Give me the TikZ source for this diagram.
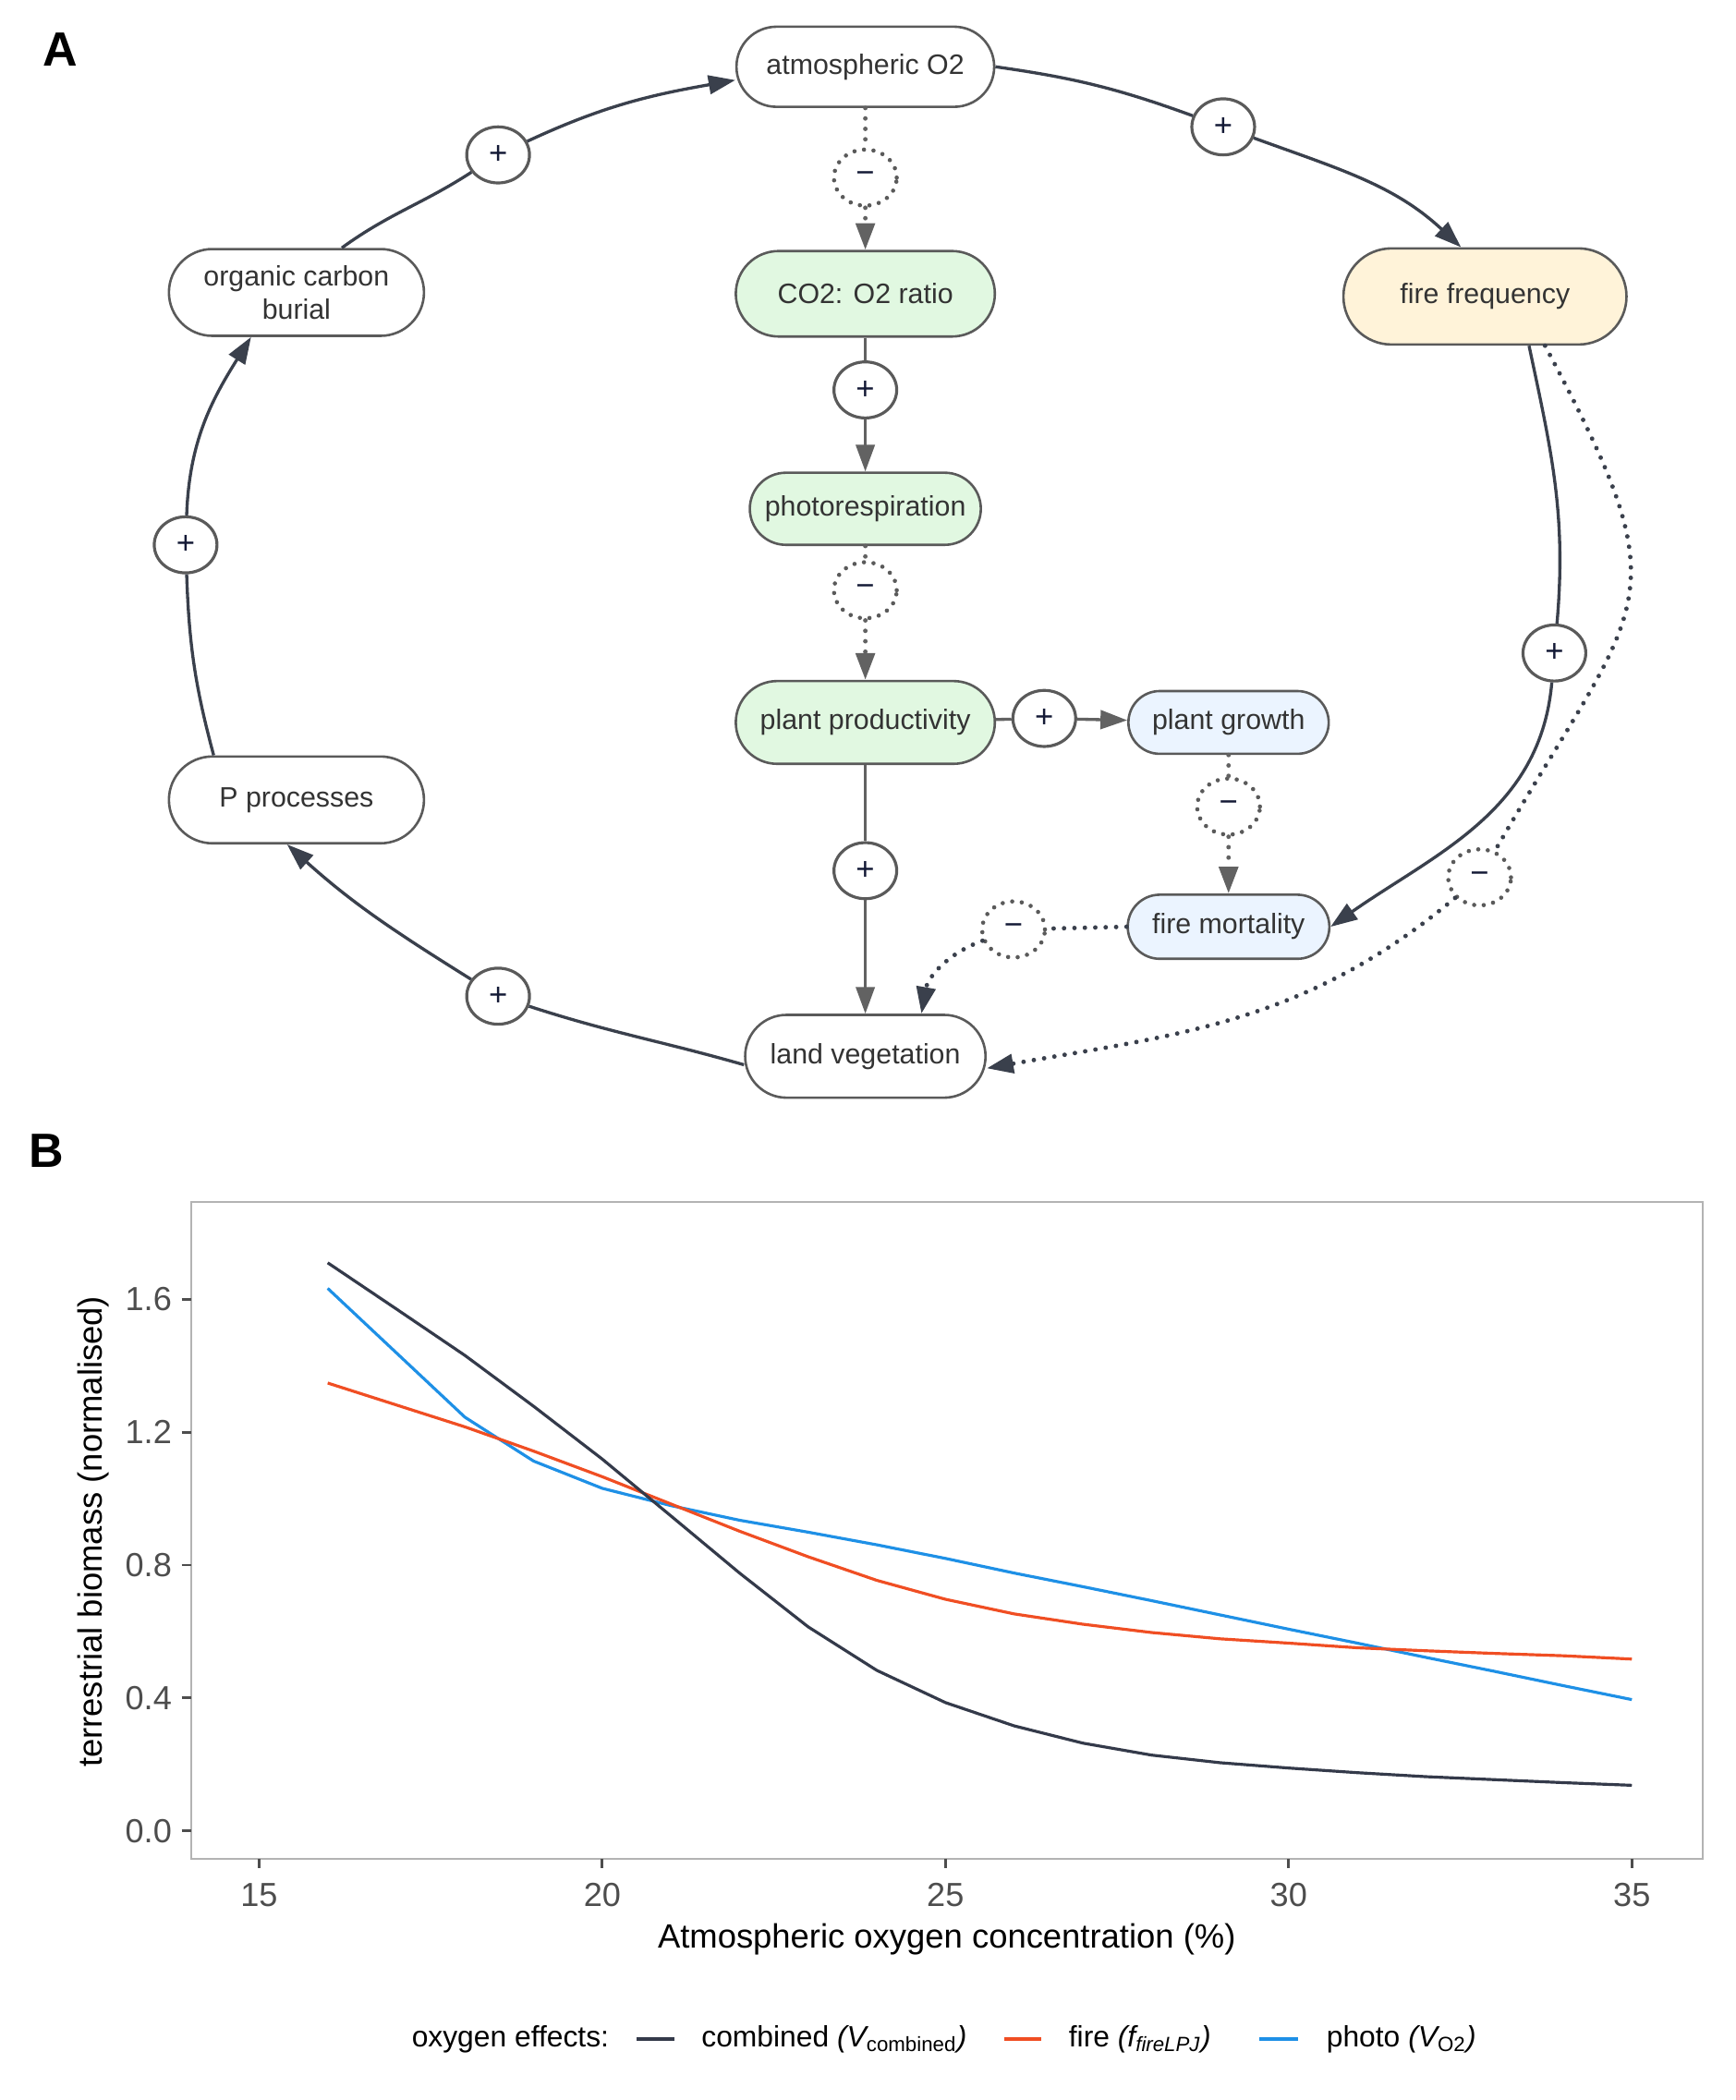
\documentclass[tikz,border=0pt]{standalone}
\usepackage{fontspec}
\setmainfont{Liberation Sans}
\usetikzlibrary{shapes.geometric,arrows.meta}

\definecolor{loopc}{RGB}{58,64,76}
\definecolor{linkc}{RGB}{98,98,98}
\definecolor{edgec}{RGB}{90,90,90}
\definecolor{signc}{RGB}{20,26,54}
\definecolor{greenf}{RGB}{225,248,225}
\definecolor{firef}{RGB}{255,243,217}
\definecolor{bluef}{RGB}{235,244,255}
\definecolor{combc}{RGB}{52,58,74}
\definecolor{firec}{RGB}{240,78,35}
\definecolor{photoc}{RGB}{30,144,230}
\definecolor{framec}{RGB}{179,179,179}
\definecolor{tickc}{RGB}{77,77,77}

\begin{document}
\begin{tikzpicture}[x=0.5pt,y=-0.5pt,
	pill/.style 2 args={rectangle, draw=edgec, line width=0.9pt, fill=white, inner sep=0pt,
		minimum width=#1, minimum height=#2, rounded corners=#2/2,
		font=\fontsize{10.5}{12.6}\selectfont, text=black!80, align=center},
	signnd/.style={ellipse, draw=edgec, line width=1.1pt, fill=white, minimum width=23.5pt,
		minimum height=21pt, inner sep=0pt, font=\fontsize{12}{14}\selectfont, text=signc},
	dsignnd/.style={signnd, line width=1.6pt, line cap=round, dash pattern=on 0pt off 3.6pt},
	outerln/.style={draw=loopc, line width=1.15pt},
	innerln/.style={draw=linkc, line width=1.15pt},
	dotln/.style={line width=1.7pt, line cap=round, dash pattern=on 0pt off 3.9pt},
	tip/.style={-{Triangle[length=10pt,width=7pt]}},
	panel/.style={font=\bfseries\fontsize{18}{20}\selectfont, inner sep=0pt},
	ticklab/.style={font=\fontsize{12.5}{14}\selectfont, text=tickc, inner sep=0pt},
	keytext/.style={font=\fontsize{11}{13}\selectfont, inner sep=0pt, anchor=west},
	keyln/.style={line width=1.6pt}]
	\useasboundingbox (0,0) rectangle (1300,1572.6);

	% Panel labels
	\node[panel] (labA) at (45,37) {A};
	\node[panel] (labB) at (35,862) {B};

	% Text Node
	\node[pill={96.5pt}{30pt}] (atmo) at (648,50) {atmospheric O2};
	\node[pill={97pt}{32pt}, fill=greenf] (ratio) at (648,220) {CO2: O2 ratio};
	\node[pill={95.5pt}{32.5pt}] (burial) at (222,219) {organic carbon\\burial};
	\node[pill={106pt}{36pt}, fill=firef] (firefreq) at (1112,222) {fire frequency};
	\node[pill={86.5pt}{27pt}, fill=greenf] (photoresp) at (648,381) {photorespiration};
	\node[pill={97pt}{31pt}, fill=greenf] (prod) at (648,541) {plant productivity};
	\node[pill={75pt}{23.5pt}, fill=bluef] (growth) at (920,541) {plant growth};
	\node[pill={95.5pt}{32.5pt}] (pproc) at (222,599) {P processes};
	\node[pill={75.5pt}{24pt}, fill=bluef] (firemort) at (920,694) {fire mortality};
	\node[pill={90pt}{31pt}] (veg) at (648,791) {land vegetation};

	% Sign Node
	\node[signnd] (s1) at (373,116) {+};
	\node[dsignnd] (s2) at (648,133) {−};
	\node[signnd] (s3) at (916,95) {+};
	\node[signnd] (s4) at (648,292) {+};
	\node[dsignnd] (s5) at (648,442) {−};
	\node[signnd] (s6) at (139,408) {+};
	\node[signnd] (s7) at (782,538) {+};
	\node[dsignnd] (s8) at (920,604) {−};
	\node[signnd] (s9) at (1164,489) {+};
	\node[dsignnd] (s10) at (1108,657) {−};
	\node[dsignnd] (s11) at (759,696) {−};
	\node[signnd] (s12) at (648,652) {+};
	\node[signnd] (s13) at (373,746) {+};

	% Connection
	\draw[outerln] ([xshift=17pt]burial.north) to[out=36,in=213] (s1);
	\draw[outerln,tip] (s1) to[out=25,in=190] ([yshift=-5pt]atmo.west);
	% Connection
	\draw[outerln] (atmo.east) to[out=-8,in=160] (s3);
	\draw[outerln,tip] (s3) to[out=-20,in=137] ([xshift=-9pt]firefreq.north);
	% Connection
	\draw[outerln] ([xshift=16.5pt]firefreq.south) to[out=-78,in=85] (s9);
	\draw[outerln,tip] (s9) to[out=-95,in=35] (firemort.east);
	% Connection
	\draw[outerln,dotln] ([xshift=22.5pt]firefreq.south) to[out=-62,in=60,looseness=1.5] (s10);
	\draw[outerln,dotln,tip] (s10) to[out=-140,in=10] ([yshift=-4.5pt]veg.east);
	% Connection
	\draw[outerln,dotln] (firemort.west) -- (s11);
	\draw[outerln,dotln,tip] (s11) to[out=200,in=80] ([xshift=21pt]veg.north);
	% Connection
	\draw[outerln] (veg.-176) to[out=164,in=-18] (s13);
	\draw[outerln,tip] (s13) to[out=148,in=-42] ([xshift=-3.5pt]pproc.south);
	% Connection
	\draw[outerln] ([xshift=-31pt]pproc.north) to[out=105,in=-88] (s6);
	\draw[outerln,tip] (s6) to[out=88,in=-122] ([xshift=-17pt]burial.south);
	% Connection
	\draw[innerln,dotln] (atmo) -- (s2);
	\draw[innerln,dotln,tip] (s2) -- (ratio);
	\draw[innerln] (ratio) -- (s4);
	\draw[innerln,tip] (s4) -- (photoresp);
	\draw[innerln,dotln] (photoresp) -- (s5);
	\draw[innerln,dotln,tip] (s5) -- (prod);
	\draw[innerln] (prod) -- (s7);
	\draw[innerln,tip] (s7) -- (growth);
	\draw[innerln] (prod) -- (s12);
	\draw[innerln,tip] (s12) -- (veg);
	\draw[innerln,dotln] (growth) -- (s8);
	\draw[innerln,dotln,tip] (s8) -- (firemort);

	% Plot frame and ticks
	\draw[framec, line width=0.6pt] (143,900) rectangle (1275,1392);
	\foreach \lab/\yy [count=\k] in {0.0/1371, 0.4/1271.5, 0.8/1172, 1.2/1072.5, 1.6/973} {
		\draw[tickc, line width=1pt] (136,\yy) -- (143,\yy);
		\node[ticklab, anchor=east] (yl\k) at (129,\yy) {\lab};
	}
	\foreach \lab/\xx [count=\k] in {15/194, 20/451, 25/708, 30/965, 35/1222} {
		\draw[tickc, line width=1pt] (\xx,1392) -- (\xx,1399);
		\node[ticklab, anchor=north] (xl\k) at (\xx,1410) {\lab};
	}
	\node[font=\fontsize{12.6}{15}\selectfont] (xtitle) at (709,1452) {Atmospheric oxygen concentration (\%)};
	\node[font=\fontsize{12.6}{15}\selectfont, rotate=90] (ytitle) at (70,1147) {terrestrial biomass (normalised)};

	% Curves
	\begin{scope}[shift={(-577,1371)}, x=25.7pt, y=124.375pt, line width=1.1pt, line join=round]
		\draw[photoc] plot coordinates {(16,1.633) (17,1.439) (18,1.245) (19,1.113) (20,1.031)
			(21,0.979) (22,0.935) (23,0.899) (24,0.861) (25,0.820) (26,0.776) (27,0.735)
			(28,0.693) (29,0.650) (30,0.607) (31,0.565) (32,0.522) (33,0.480) (34,0.437) (35,0.395)};
		\draw[firec] plot coordinates {(16,1.348) (17,1.282) (18,1.216) (19,1.143) (20,1.066)
			(21,0.984) (22,0.902) (23,0.825) (24,0.754) (25,0.697) (26,0.653) (27,0.622)
			(28,0.597) (29,0.578) (30,0.565) (31,0.551) (32,0.542) (33,0.534) (34,0.527) (35,0.517)};
		\draw[combc] plot coordinates {(16,1.710) (17,1.571) (18,1.431) (19,1.278) (20,1.119)
			(21,0.948) (22,0.776) (23,0.614) (24,0.483) (25,0.386) (26,0.316) (27,0.264)
			(28,0.228) (29,0.205) (30,0.189) (31,0.175) (32,0.163) (33,0.154) (34,0.145) (35,0.137)};
	\end{scope}

	% Legend
	\node[keytext] (keyhead) at (308,1527) {oxygen effects:};
	\coordinate (k1a) at (477,1527); \coordinate (k1b) at (505,1527);
	\draw[keyln, combc] (k1a) -- (k1b);
	\node[keytext] (key1) at (525,1527) {combined {\itshape (V}\textsubscript{combined}{\itshape )}};
	\coordinate (k2a) at (752,1527); \coordinate (k2b) at (780,1527);
	\draw[keyln, firec] (k2a) -- (k2b);
	\node[keytext] (key2) at (800,1527) {fire {\itshape (f\textsubscript{fireLPJ})}};
	\coordinate (k3a) at (943,1527); \coordinate (k3b) at (972,1527);
	\draw[keyln, photoc] (k3a) -- (k3b);
	\node[keytext] (key3) at (993,1527) {photo {\itshape (V}\textsubscript{O2}{\itshape )}};

\end{tikzpicture}
\end{document}
